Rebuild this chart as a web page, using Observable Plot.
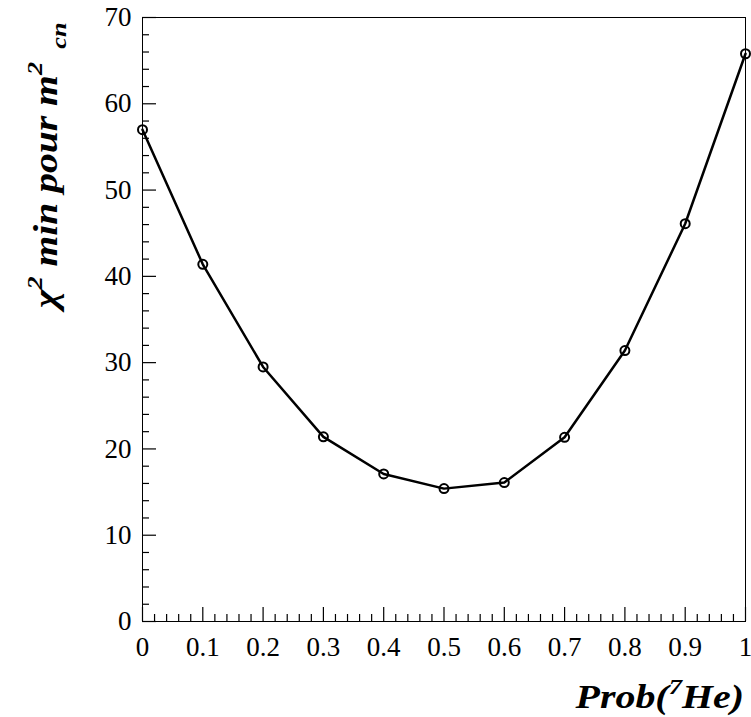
<!DOCTYPE html>
<html>
<head>
<meta charset="utf-8">
<script src="https://cdn.jsdelivr.net/npm/d3@7"></script>
<script src="https://cdn.jsdelivr.net/npm/@observablehq/plot@0.6"></script>
<style>
  body { margin: 0; background: white; }
  #chart svg { display: block; }
</style>
</head>
<body>
<div id="chart"></div>
<script>
// Data
const prob = [0, 0.1, 0.2, 0.3, 0.4, 0.5, 0.6, 0.7, 0.8, 0.9, 1.0];
const chi2 = [57.0, 41.4, 29.5, 21.4, 17.1, 15.4, 16.1, 21.35, 31.4, 46.1, 65.8];

const xMajorTicks = [0, 0.1, 0.2, 0.3, 0.4, 0.5, 0.6, 0.7, 0.8, 0.9, 1];
const xMinorTicks = d3.range(0, 51).map(i => i / 50).filter(v => Math.round(v * 50) % 5 !== 0);
const yMajorTicks = [0, 10, 20, 30, 40, 50, 60, 70];
const yMinorTicks = d3.range(0, 36).map(i => i * 2).filter(v => v % 10 !== 0);

const data = prob.map((p, i) => ({p, c: chi2[i]}));

const font = "'Liberation Serif', 'Times New Roman', serif";

const chart = Plot.plot({
  width: 751,
  height: 717,
  marginLeft: 142,
  marginRight: 6,
  marginTop: 17,
  marginBottom: 96,
  style: {fontFamily: font, background: "white", color: "black"},
  x: {domain: [0, 1]},
  y: {domain: [0, 70]},
  marks: [
    Plot.frame({stroke: "black", strokeWidth: 1}),
    // major and minor ticks (inward)
    Plot.axisX({ticks: xMajorTicks, tickSize: -14, text: null, label: null, strokeWidth: 1.2}),
    Plot.axisX({ticks: xMinorTicks, tickSize: -7, text: null, label: null, strokeWidth: 1.2}),
    Plot.axisY({ticks: yMajorTicks, tickSize: -14, text: null, label: null, strokeWidth: 1.2}),
    Plot.axisY({ticks: yMinorTicks, tickSize: -7, text: null, label: null, strokeWidth: 1.2}),
    // tick labels
    Plot.axisX({ticks: xMajorTicks, tickSize: 0, tickPadding: 15, fontSize: 27, label: null,
      tickFormat: d => (d === 0 ? "0" : d === 1 ? "1" : d3.format(".1f")(d))}),
    Plot.axisY({ticks: yMajorTicks, tickSize: 0, tickPadding: 11, fontSize: 27, label: null,
      tickFormat: d => String(d)}),
    Plot.line(data, {x: "p", y: "c", stroke: "black", strokeWidth: 2.5}),
    Plot.dot(data, {x: "p", y: "c", r: 4.5, stroke: "black", strokeWidth: 2, fill: "none"})
  ]
});

const svg = d3.select(chart);

// X axis title: Prob(^7He)
const xt = svg.append("text")
  .attr("transform", "translate(744,708) scale(1.21,1)")
  .attr("text-anchor", "end")
  .attr("font-family", font)
  .attr("font-size", 33)
  .attr("font-weight", "bold")
  .attr("font-style", "italic")
  .attr("fill", "black");
xt.append("tspan").text("Prob(");
xt.append("tspan").attr("font-size", 22).attr("dy", -14).text("7");
xt.append("tspan").attr("dy", 14).text("He)");

// Y axis title: χ^2 min pour m^2_cn
const yt = svg.append("text")
  .attr("transform", "translate(57,308) rotate(-90) scale(1.2,1)")
  .attr("text-anchor", "start")
  .attr("font-family", font)
  .attr("font-size", 33)
  .attr("font-weight", "bold")
  .attr("font-style", "italic")
  .attr("fill", "black");
yt.append("tspan").text("χ");
yt.append("tspan").attr("font-size", 22).attr("dy", -15).text("2");
yt.append("tspan").attr("dy", 15).text(" min pour m");
yt.append("tspan").attr("font-size", 22).attr("dy", -15).text("2");
yt.append("tspan").attr("font-size", 22).attr("dy", 24).attr("dx", 11).text("cn");

document.getElementById("chart").appendChild(chart);
</script>
</body>
</html>
